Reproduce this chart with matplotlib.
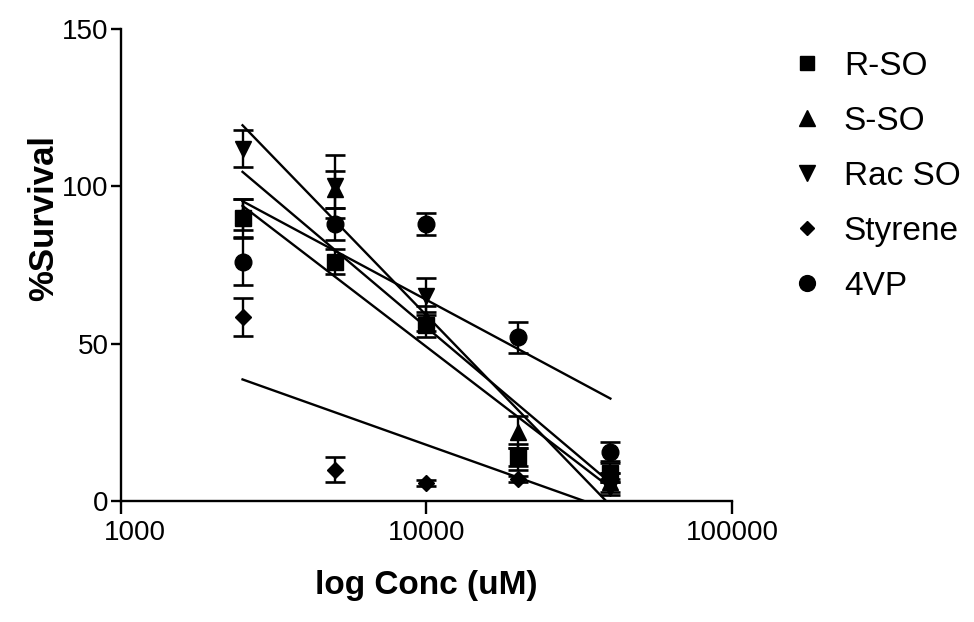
import numpy as np
import matplotlib
matplotlib.use("Agg")
import matplotlib.pyplot as plt
import matplotlib.transforms as mtransforms
from matplotlib.ticker import FixedLocator, FixedFormatter, NullLocator

plt.rcParams['font.family'] = ['Liberation Sans', 'DejaVu Sans']

# Concentrations (uM)
conc = [2500, 5000, 10000, 20000, 40000]

# Mean % survival and SEM per compound
r_so = [90, 76, 56, 14, 9]
r_so_err = [6, 4, 4, 3, 3]
s_so = [91, 99, 58, 22, 6]
s_so_err = [5, 6, 4, 5, 3]
rac_so = [112, 100, 65, 14, 4]
rac_so_err = [6, 10, 6, 4, 2]
styrene = [58.5, 10, 5.7, 7, 8]
styrene_err = [6, 4, 1, 1, 1]
vp4 = [76, 88, 88, 52, 15.6]
vp4_err = [7.5, 5, 3.5, 5, 3]

series_names = ['R-SO', 'S-SO', 'Rac SO', 'Styrene', '4VP']
x_ticks = [1000, 10000, 100000]
y_ticks = [0, 50, 100, 150]

series = {
    'S-SO': (s_so, s_so_err, '^', 12),
    'R-SO': (r_so, r_so_err, 's', 11),
    'Rac SO': (rac_so, rac_so_err, 'v', 12),
    'Styrene': (styrene, styrene_err, 'D', 8),
    '4VP': (vp4, vp4_err, 'o', 12),
}

fig = plt.figure(figsize=(9.74, 6.22), dpi=100)
ax = fig.add_axes([0.1242, 0.1945, 0.6273, 0.7589])

logc = np.log10(conc)
for name in ['S-SO', 'R-SO', 'Rac SO', 'Styrene', '4VP']:
    vals, err, mk, ms = series[name]
    ax.errorbar(conc, vals, yerr=err, fmt=mk, color='black', ms=ms,
                capsize=7, elinewidth=1.7, capthick=1.9, clip_on=False,
                zorder=3)
    # linear regression of survival against log concentration
    slope, icpt = np.polyfit(logc, vals, 1)
    xs = np.array([conc[0], conc[-1]])
    ax.plot(xs, slope * np.log10(xs) + icpt, color='black', lw=1.7, zorder=2)

ax.set_xscale('log')
ax.set_xlim(1000, 100000)
ax.set_ylim(0, 150)
ax.xaxis.set_major_locator(FixedLocator(x_ticks))
ax.xaxis.set_major_formatter(FixedFormatter([str(t) for t in x_ticks]))
ax.xaxis.set_minor_locator(NullLocator())
ax.yaxis.set_major_locator(FixedLocator(y_ticks))

for s in ['top', 'right']:
    ax.spines[s].set_visible(False)
for s in ['left', 'bottom']:
    ax.spines[s].set_linewidth(1.7)
ax.tick_params(axis='both', width=1.7, labelsize=20, colors='black')
ax.tick_params(axis='x', length=9, pad=5)
ax.tick_params(axis='y', length=7, pad=2)

# nudge the first x tick label clear of the y axis labels
fig.canvas.draw()
first = ax.get_xticklabels()[0]
first.set_transform(first.get_transform() +
                    mtransforms.ScaledTranslation(14 / 100, 0, fig.dpi_scale_trans))

ax.set_xlabel('log Conc (uM)', fontsize=24, fontweight='bold', labelpad=17)
ax.set_ylabel('%Survival', fontsize=25, fontweight='bold', labelpad=10)
ax.yaxis.set_label_coords(-0.1, 0.6)

leg_handles = []
for name in series_names:
    vals, err, mk, ms = series[name]
    leg_handles.append(plt.Line2D([], [], marker=mk, color='black', ls='none',
                                  ms=ms * 0.95))
fig.legend(leg_handles, series_names, loc='upper left',
           bbox_to_anchor=(0.798, 0.94), frameon=False, fontsize=24,
           handlelength=1.0, handletextpad=0.6, labelspacing=0.72,
           borderaxespad=0)

fig.savefig('out.png', dpi=100)
